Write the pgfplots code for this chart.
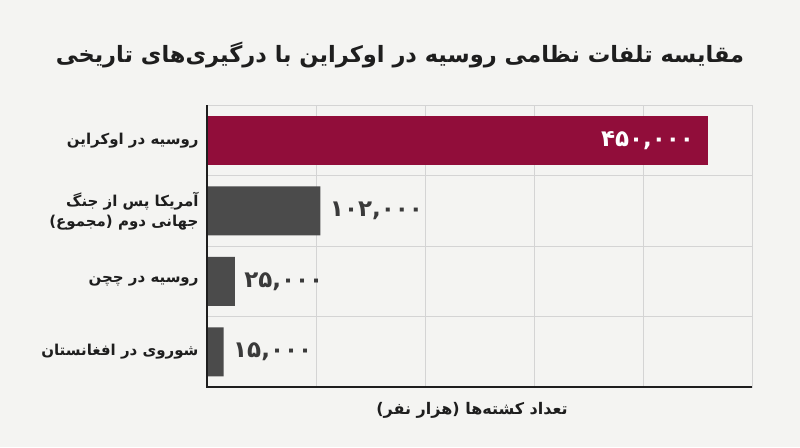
\documentclass[border=0pt]{standalone}
\usepackage{fontspec}
\usepackage{pgfplots}
\pgfplotsset{compat=1.18}
\TeXXeTstate=1
\newfontfamily\arabicfont[Script=Arabic]{DejaVu Sans}
\definecolor{bg}{HTML}{F4F4F2}
\definecolor{crim}{HTML}{910D3A}
\definecolor{bargray}{HTML}{4B4B4B}
\definecolor{gridc}{HTML}{D4D4D4}
\definecolor{txt}{HTML}{1E1E1E}
\definecolor{valc}{HTML}{3A3A3A}
\begin{document}
\begin{tikzpicture}[x=1pt,y=1pt]
\fill[bg] (0,0) rectangle (800,447);
\useasboundingbox (0,0) rectangle (800,447);
\begin{axis}[
  at={(207pt,60pt)}, anchor=south west, scale only axis,
  width=545pt, height=282pt,
  xmin=0, xmax=490000, ymin=-0.5, ymax=3.5, y dir=reverse,
  xbar, bar width=49pt, bar shift=0pt,
  scaled x ticks=false,
  xtick={0,98000,196000,294000,392000,490000}, xticklabels={},
  xmajorgrids,
  ytick={0,1,2,3},
  yticklabels={
    {\beginR روسیه در اوکراین\endR},
    {\beginR آمریکا پس از جنگ\endR\\\beginR جهانی دوم (مجموع)\endR},
    {\beginR روسیه در چچن\endR},
    {\beginR شوروی در افغانستان\endR}},
  minor ytick={0.5,1.5,2.5}, yminorgrids,
  major tick length=0pt, minor tick length=0pt,
  grid style={gridc, line width=0.7pt},
  minor grid style={gridc, line width=0.7pt},
  axis line style={gridc, line width=0.7pt},
  yticklabel style={font=\arabicfont\bfseries\fontsize{15}{20}\selectfont, align=right, text=txt, xshift=-5pt},
  clip=false,
  point meta=explicit symbolic,
]
\addplot[fill=crim, draw=none,
  nodes near coords, nodes near coords style={anchor=east, text=white, xshift=-10pt,
  font=\arabicfont\bfseries\fontsize{23}{26}\selectfont}]
  coordinates {(450000,0) [۴۵۰,۰۰۰]};
\addplot[fill=bargray, draw=none,
  nodes near coords, nodes near coords style={anchor=west, text=valc, xshift=6pt,
  font=\arabicfont\bfseries\fontsize{23}{26}\selectfont}]
  coordinates {(102000,1) [۱۰۲,۰۰۰] (25000,2) [۲۵,۰۰۰] (15000,3) [۱۵,۰۰۰]};
\draw[txt, line width=1.6pt] (axis cs:0,-0.5) |- (axis cs:490000,3.5);
\end{axis}
\node[font=\arabicfont\bfseries\fontsize{22.5}{28}\selectfont, text=txt] at (400,392)
  {\beginR مقایسه تلفات نظامی روسیه در اوکراین با درگیری‌های تاریخی\endR};
\node[font=\arabicfont\bfseries\fontsize{16}{20}\selectfont, text=txt] at (472,37)
  {\beginR تعداد کشته‌ها (هزار نفر)\endR};
\end{tikzpicture}
\end{document}
